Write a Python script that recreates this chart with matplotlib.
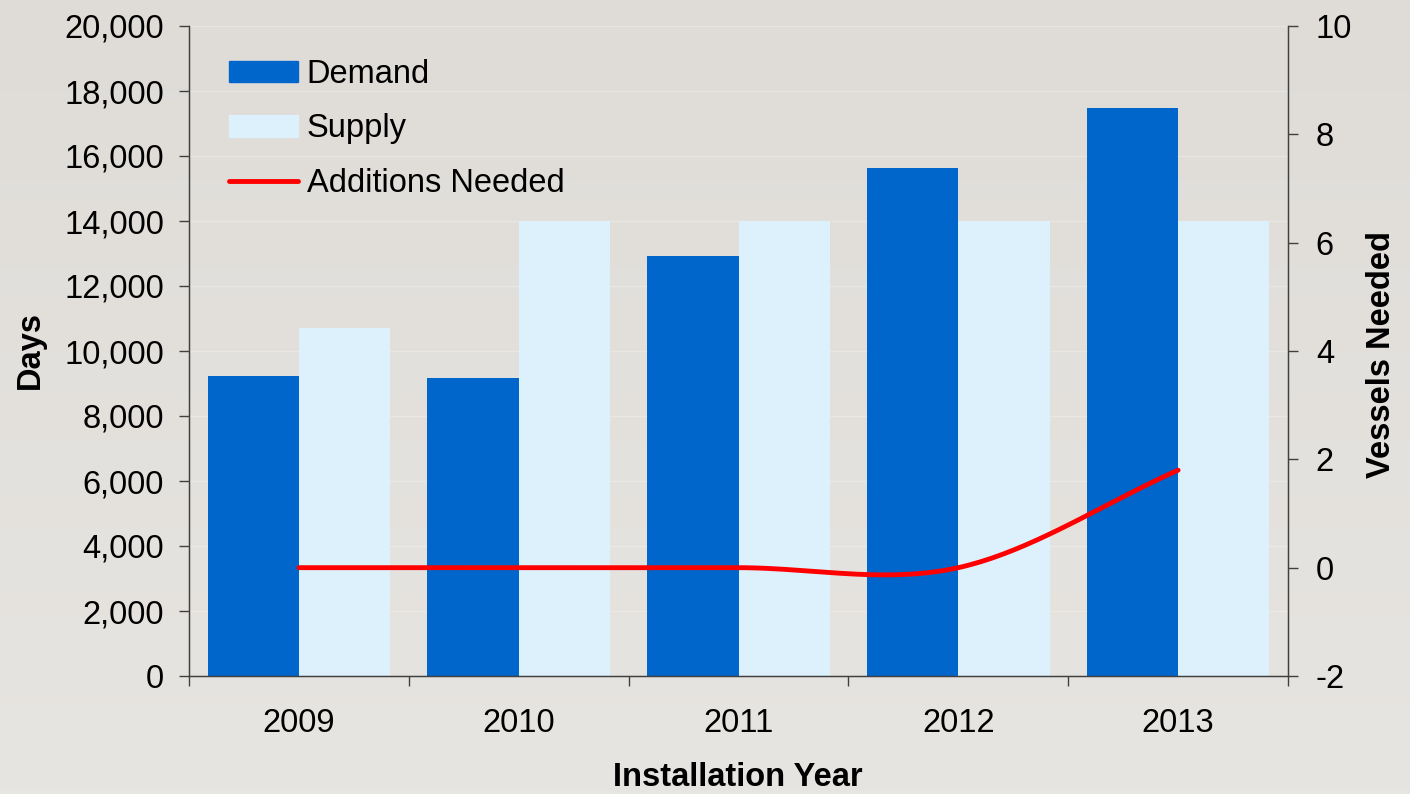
import numpy as np
import matplotlib
matplotlib.use("Agg")
import matplotlib.pyplot as plt
from matplotlib.patches import Patch
from matplotlib.lines import Line2D
from matplotlib.ticker import FuncFormatter, FixedLocator

plt.rcParams['font.family'] = ['Liberation Sans', 'DejaVu Sans']
plt.rcParams['axes.unicode_minus'] = False

# data
years = ['2009', '2010', '2011', '2012', '2013']
demand = [9230, 9170, 12920, 15630, 17480]      # days
supply = [10700, 14000, 14000, 14000, 14000]    # days
additions = [0, 0, 0, 0, 1.8]                   # vessels needed

DEMAND_C = '#0066CC'
SUPPLY_C = '#DDF1FC'
LINE_C = '#FF0000'
AX_C = '#404040'
FS = 23.5


def smooth_line(x, y, n=40):
    # Excel style smoothed line (cardinal / Catmull-Rom through the points)
    x = np.asarray(x, float)
    y = np.asarray(y, float)
    m = np.zeros_like(y)
    m[1:-1] = (y[2:] - y[:-2]) / 2.0
    m[0] = y[1] - y[0]
    m[-1] = y[-1] - y[-2]
    xs, ys = [], []
    for i in range(len(x) - 1):
        t = np.linspace(0, 1, n)
        h00 = 2*t**3 - 3*t**2 + 1
        h10 = t**3 - 2*t**2 + t
        h01 = -2*t**3 + 3*t**2
        h11 = t**3 - t**2
        xs.append(x[i] + t*(x[i+1] - x[i]))
        ys.append(h00*y[i] + h10*m[i] + h01*y[i+1] + h11*m[i+1])
    return np.concatenate(xs), np.concatenate(ys)


W, H = 1410, 794
fig = plt.figure(figsize=(W/100, H/100), dpi=100)

# grey photo-like backdrop
bg = fig.add_axes([0, 0, 1, 1], zorder=-10)
grad = np.linspace(0, 1, 200)[:, None]
top = np.array([223, 220, 216]) / 255.
bot = np.array([231, 229, 225]) / 255.
img = top[None, None, :] * (1 - grad[:, :, None]) + bot[None, None, :] * grad[:, :, None]
bg.imshow(img, aspect='auto', extent=[0, 1, 0, 1])
bg.axis('off')

ax = fig.add_axes([189/W, 1 - 676/H, (1288-189)/W, (676-26)/H])
ax.set_facecolor('none')
x = np.arange(len(years))
bw = 0.415
ax.bar(x - bw/2, demand, bw, color=DEMAND_C, zorder=2)
ax.bar(x + bw/2, supply, bw, color=SUPPLY_C, zorder=2)
ax.set_xlim(-0.5, len(years) - 0.5)
ax.set_ylim(0, 20000)
ax.set_yticks(np.arange(0, 20001, 2000))
ax.yaxis.set_major_formatter(FuncFormatter(lambda v, p: '{:,.0f}'.format(v)))
ax.grid(axis='y', color='white', alpha=0.25, lw=1, zorder=0)
ax.set_axisbelow(True)

ax.set_xticks(x)
ax.set_xticklabels(years)
ax.xaxis.set_minor_locator(FixedLocator(np.arange(-0.5, len(years), 1.0)))
ax.tick_params(axis='x', which='major', length=0, pad=23, labelsize=FS)
ax.tick_params(axis='x', which='minor', length=7, width=1, color=AX_C)
ax.tick_params(axis='y', length=7, width=1, color=AX_C, pad=11, labelsize=FS)
ax.spines['top'].set_visible(False)
for s in ['left', 'bottom', 'right']:
    ax.spines[s].set_color(AX_C)
    ax.spines[s].set_linewidth(1)

ax2 = ax.twinx()
ax2.set_ylim(-2, 10)
ax2.set_yticks(np.arange(-2, 11, 2))
sx, sy = smooth_line(x, additions)
ax2.plot(sx, sy, color=LINE_C, lw=3.5, solid_capstyle='round', zorder=3)
ax2.tick_params(axis='y', length=7, width=1, color=AX_C, pad=13, labelsize=FS)
ax2.spines['top'].set_visible(False)
for s in ['left', 'bottom', 'right']:
    ax2.spines[s].set_color(AX_C)

handles = [Patch(color=DEMAND_C), Patch(color=SUPPLY_C),
           Line2D([0], [0], color=LINE_C, lw=3.5, solid_capstyle='round')]
ax.legend(handles, ['Demand', 'Supply', 'Additions Needed'],
          loc='upper left', bbox_to_anchor=(229/W, 1 - 59/H),
          bbox_transform=fig.transFigure, frameon=False, fontsize=FS,
          handlelength=2.1, handleheight=0.65, handletextpad=0.28,
          labelspacing=0.72, borderpad=0, borderaxespad=0)

fig.text(30/W, 1 - 350/H, 'Days', rotation=90, ha='center', va='center',
         fontsize=FS, fontweight='bold')
fig.text(1381/W, 1 - 355/H, 'Vessels Needed', rotation=90, ha='center',
         va='center', fontsize=FS, fontweight='bold')
fig.text(738/W, 8/H, 'Installation Year', ha='center', va='baseline',
         fontsize=FS, fontweight='bold')

fig.savefig('out.png', dpi=100)
